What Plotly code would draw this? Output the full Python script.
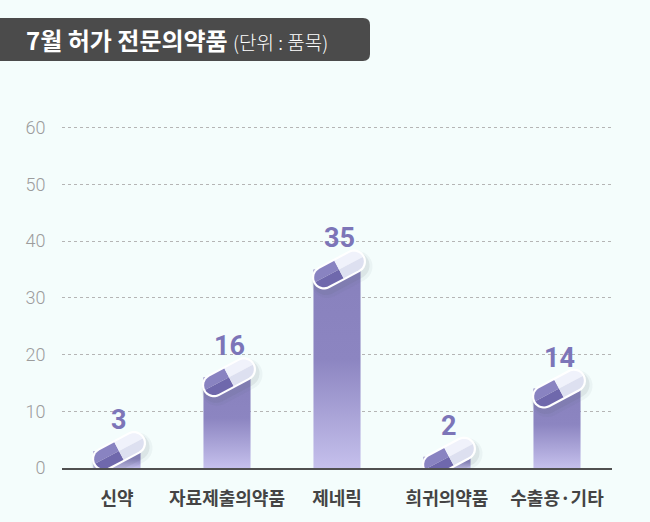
import math
import plotly.graph_objects as go

# data
categories = ['신약', '자료제출의약품', '제네릭', '희귀의약품', '수출용·기타']
counts = [3, 16, 35, 2, 14]
yticks = [0, 10, 20, 30, 40, 50, 60]

title_main = '7월 허가 전문의약품'
title_unit = '(단위 : 품목)'

BG = '#f4fdfc'
KFONT = 'Noto Sans CJK KR'
NFONT = 'Roboto, sans-serif'

BAR_HALF = 0.214     # half bar width in x units (110px per category)
PILL_LEN = 58
PILL_W = 24
PILL_ANG = math.radians(28)


def rot(pts, dx=0.0, dy=0.0):
    """rotate pill-local (u, v) points to pixel offsets"""
    c, s = math.cos(PILL_ANG), math.sin(PILL_ANG)
    return [(u * c - v * s + dx, u * s + v * c + dy) for u, v in pts]


def arc(cx, r, a0, a1, n=10):
    return [(cx + r * math.cos(math.radians(a0 + (a1 - a0) * k / n)),
             r * math.sin(math.radians(a0 + (a1 - a0) * k / n))) for k in range(n + 1)]


def topath(pts):
    return 'M ' + ' L '.join('%.2f,%.2f' % p for p in pts) + ' Z'


def capsule(a, r):
    return arc(a, r, -90, 90, 16) + arc(-a, r, 90, 270, 16)


def pill_shapes(xi, yv):
    a = (PILL_LEN - PILL_W) / 2.0
    r_out = PILL_W / 2.0
    r_in = r_out - 2.2
    ox, oy = 2, 0
    parts = []
    # soft shadow
    for grow, sh, op in [(3.5, (3, -5), 0.06), (1.5, (2, -4), 0.10)]:
        parts.append((rot(capsule(a, r_out + grow), ox + sh[0], oy + sh[1]), '#5a6070', op))
    # white rim
    parts.append((rot(capsule(a, r_out), ox, oy), '#ffffff', 1))
    # four colour pieces
    ul = [(0, 0), (0, r_in), (-a, r_in)] + arc(-a, r_in, 90, 180)
    ll = [(0, 0)] + arc(-a, r_in, 180, 270) + [(0, -r_in)]
    ur = [(0, 0), (0, r_in), (a, r_in)] + arc(a, r_in, 90, 0)
    lr = [(0, 0)] + arc(a, r_in, 0, -90) + [(0, -r_in)]
    parts.append((rot(ul, ox, oy), '#8983c1', 1))
    parts.append((rot(ll, ox, oy), '#6f68ac', 1))
    parts.append((rot(ur, ox, oy), '#f0f2fb', 1))
    parts.append((rot(lr, ox, oy), '#dde0f0', 1))
    out = []
    for pts, col, op in parts:
        out.append(dict(type='path', xref='x', yref='y',
                        xsizemode='pixel', ysizemode='pixel',
                        xanchor=xi, yanchor=yv, path=topath(pts),
                        fillcolor=col, opacity=op, line=dict(width=0),
                        layer='above'))
    return out


fig = go.Figure()

for i, v in enumerate(counts):
    fig.add_trace(go.Scatter(
        x=[i - BAR_HALF, i + BAR_HALF, i + BAR_HALF, i - BAR_HALF, i - BAR_HALF],
        y=[0, 0, v, v, 0],
        mode='lines', fill='toself', line=dict(width=0),
        fillgradient=dict(type='vertical',
                          colorscale=[[0, '#c5c0ec'], [0.55, '#8c85c1'], [1, '#8881bd']]),
        name=categories[i], hoverinfo='skip', showlegend=False,
    ))

shapes = []
for i, v in enumerate(counts):
    shapes += pill_shapes(i, v)

# title box (anchored to top-left of plot area, which sits at 62,126 px)
shapes.append(dict(type='path', xref='paper', yref='paper',
                   xsizemode='pixel', ysizemode='pixel', xanchor=0, yanchor=1,
                   path='M -70,65 L 301,65 Q 308,65 308,72 L 308,101 Q 308,108 301,108 L -70,108 Z',
                   fillcolor='#4b4b4b', line=dict(width=0), layer='above'))

annotations = []
for i, v in enumerate(counts):
    annotations.append(dict(x=i, y=v, xref='x', yref='y', text=str(v),
                            showarrow=False, yshift=31, xshift=2,
                            font=dict(family=NFONT, size=27, color='#7c75b8', weight='bold')))

annotations.append(dict(x=0, y=1, xref='paper', yref='paper', xanchor='left', yanchor='middle',
                        xshift=-38, yshift=86.5, showarrow=False,
                        text='<b>%s</b> <span style="font-size:19px;font-weight:300">%s</span>'
                             % (title_main, title_unit),
                        font=dict(family=KFONT, size=24, color='#ffffff')))

fig.update_layout(
    width=650, height=522,
    margin=dict(l=62, r=38, t=126, b=50),
    paper_bgcolor=BG, plot_bgcolor=BG,
    shapes=shapes, annotations=annotations,
    showlegend=False,
    xaxis=dict(range=[-0.5, 4.5], tickvals=list(range(len(categories))), ticktext=categories,
               showgrid=False, zeroline=False, showline=True, linecolor='#505050', linewidth=1.5,
               ticks='outside', ticklen=14, tickcolor='rgba(0,0,0,0)',
               tickfont=dict(family=KFONT, size=18, color='#444444', weight='bold'),
               fixedrange=True),
    yaxis=dict(range=[0, 60.3], tickvals=yticks, showgrid=True, gridcolor='#b5b5b5',
               griddash='dot', gridwidth=1, zeroline=False, showline=False,
               ticks='outside', ticklen=12, tickcolor='rgba(0,0,0,0)',
               tickfont=dict(family=NFONT, size=18, color='#9c9c9c', weight=300),
               fixedrange=True),
)

fig.write_html('out.html', config={'displayModeBar': False},
               post_script="document.body.style.margin='0';document.body.style.padding='0';")
